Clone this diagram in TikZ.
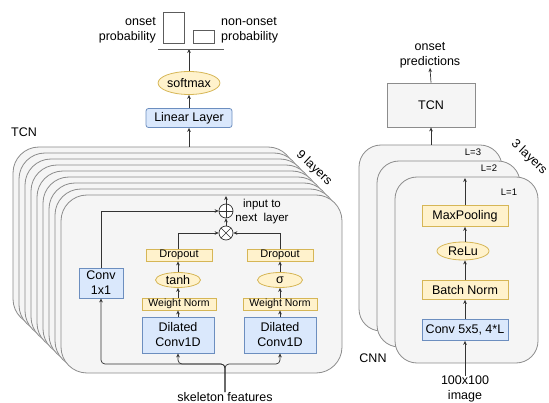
\documentclass[tikz,border=0pt]{standalone}
\usepackage{fontspec}
\setmainfont{Liberation Sans}
\usetikzlibrary{arrows.meta,shapes.geometric}
\definecolor{bluefill}{HTML}{DAE8FC}
\definecolor{bluedraw}{HTML}{6C8EBF}
\definecolor{yelfill}{HTML}{FFF2CC}
\definecolor{yeldraw}{HTML}{D6B656}
\definecolor{panelfill}{HTML}{F5F5F5}
\definecolor{paneldraw}{HTML}{8C8C8C}
\definecolor{wire}{HTML}{333333}

\begin{document}
\begin{tikzpicture}[x=1pt,y=-1pt,
  font=\fontsize{12.5}{15}\selectfont,
  panel/.style={draw=paneldraw, fill=panelfill, line width=0.8pt},
  bluebox/.style={draw=bluedraw, fill=bluefill, line width=0.8pt, inner sep=0pt, align=center},
  yelbox/.style={draw=yeldraw, fill=yelfill, line width=0.8pt, inner sep=0pt},
  yelell/.style={ellipse, draw=yeldraw, fill=yelfill, line width=0.8pt, inner sep=0pt},
  opcircle/.style={circle, draw=wire, fill=white, line width=0.7pt, minimum size=14, inner sep=0pt},
  wireline/.style={draw=wire, line width=0.7pt},
  arr/.style={wireline, -{Stealth[length=4pt,width=3.6pt]}},
  lbl/.style={inner sep=0pt, align=center},
  small/.style={font=\fontsize{10.5}{12}\selectfont},
  tiny/.style={font=\fontsize{9.5}{11}\selectfont},
]
\useasboundingbox (0,0) rectangle (549,403);

% ---------------- TCN: nine stacked layers ----------------
\foreach \i in {0,...,8}{
  \path[panel, rounded corners=26]
    ({13+6*\i},{147+6*\i}) rectangle ({294+6*\i},{325+6*\i});
}
\node[lbl] (tcnlbl) at (24,132) {TCN};
\node[lbl, rotate=-43] (nine) at (314,168) {9 layers};

% blocks inside the front layer
\node[bluebox, minimum width=44, minimum height=30] (c1x1) at (101,283) {Conv\\1x1};
\node[bluebox, minimum width=72, minimum height=36] (dcl) at (178,335) {Dilated\\Conv1D};
\node[bluebox, minimum width=72, minimum height=36] (dcr) at (280,335) {Dilated\\Conv1D};
\node[yelbox, small, minimum width=74, minimum height=12] (wnl) at (179,304) {Weight Norm};
\node[yelbox, small, minimum width=74, minimum height=12] (wnr) at (280,304) {Weight Norm};
\node[yelell, minimum width=45, minimum height=15] (tanh) at (178,280) {tanh};
\node[yelell, minimum width=45, minimum height=15] (sig) at (280,280) {σ};
\node[yelbox, font=\fontsize{11}{13}\selectfont, minimum width=66, minimum height=12] (dol) at (179,255) {Dropout};
\node[yelbox, font=\fontsize{11}{13}\selectfont, minimum width=66, minimum height=12] (dor) at (280,255) {Dropout};
\node[opcircle] (mul) at (226,233) {};
\node[opcircle] (add) at (226,211) {};
\draw[wireline] (mul.north west) -- (mul.south east) (mul.north east) -- (mul.south west);
\draw[wireline] (add.north) -- (add.south) (add.west) -- (add.east);
\node[lbl, font=\fontsize{11.5}{14}\selectfont] (nxt) at (262,212) {input to\\next\ \ layer};

\node[lbl] (sk) at (225,397) {skeleton features};
\coordinate (bus) at (225,364);
\coordinate (tcnout) at (226,196);
\coordinate (tcntop) at (189,147);

% wiring of the residual block
\draw[arr, rounded corners=4] (sk.north) -- (bus) -| (c1x1.south);
\draw[arr, rounded corners=4] (sk.north) -- (bus) -| (dcl.south);
\draw[arr, rounded corners=4] (sk.north) -- (bus) -| (dcr.south);
\draw[arr] (dcl.north) -- (dcl.north |- wnl.south);
\draw[arr] (dcr.north) -- (wnr.south);
\draw[arr] (dcl.north |- wnl.north) -- (tanh.south);
\draw[arr] (wnr.north) -- (sig.south);
\draw[arr] (tanh.north) -- (tanh.north |- dol.south);
\draw[arr] (sig.north) -- (dor.south);
\draw[arr] (tanh.north |- dol.north) |- (mul.west);
\draw[arr] (dor.north) |- (mul.east);
\draw[arr] (mul.north) -- (add.south);
\draw[arr] (c1x1.north) |- (add.west);
\draw[arr] (add.north) -- (tcnout);

% ---------------- output head ----------------
\node[bluebox, rounded corners=2.5, minimum width=86, minimum height=19] (lin) at (189,118) {Linear Layer};
\node[yelell, minimum width=59, minimum height=23] (soft) at (189,83) {softmax};
\coordinate (barbase) at (189,49);
\draw[arr] (tcntop) -- (lin.south);
\draw[arr] (lin.north) -- (soft.south);
\draw[arr] (soft.north) -- (barbase);
\draw[draw=wire!80, line width=0.7pt] (158,49) -- (224,49);
\node[draw=wire!80, line width=0.7pt, minimum width=21, minimum height=31, inner sep=0pt] (pon) at (173.5,27.5) {};
\node[draw=wire!80, line width=0.7pt, minimum width=21, minimum height=13, inner sep=0pt] (poff) at (203.5,36.5) {};
\node[lbl, align=right, anchor=east] (onl) at (156,30) {onset\\probability};
\node[lbl, align=left, anchor=west] (offl) at (221,30) {non-onset\\probability};

% ---------------- CNN: three stacked layers ----------------
\foreach \i in {0,1,2}{
  \path[panel, rounded corners=22]
    ({359+18*\i},{145+16*\i}) rectangle ({502+18*\i},{331+16*\i});
}
\node[lbl, tiny] (l3) at (473,152) {L=3};
\node[lbl, tiny] (l2) at (489,168) {L=2};
\node[lbl, tiny] (l1) at (509,192) {L=1};
\node[lbl, rotate=-43] (three) at (529,157) {3 layers};
\node[lbl] (cnnlbl) at (373,358) {CNN};

\node[panel, minimum width=88, minimum height=44, inner sep=0pt] (tcnbox) at (431,105) {TCN};
\node[lbl] (pred) at (430,55) {onset\\predictions};
\coordinate (cnntop) at (431,145);
\coordinate (cnnfront) at (465,178);

\node[yelbox, minimum width=86, minimum height=21] (mp) at (465,216) {MaxPooling};
\node[yelell, minimum width=52, minimum height=18] (relu) at (463,251) {ReLu};
\node[yelbox, minimum width=86, minimum height=19] (bn) at (465,290) {Batch Norm};
\node[bluebox, minimum width=86, minimum height=21] (conv5) at (465,330) {Conv 5x5, 4*L};
\node[lbl] (img) at (465,389) {100x100\\image};

\draw[arr] (img.north) -- (conv5.south);
\draw[arr] (conv5.north) -- (bn.south);
\draw[arr] (bn.north) -- (bn.north |- relu.south);
\draw[arr] (bn.north |- relu.north) -- (mp.south);
\draw[arr] (mp.north) -- (cnnfront);
\draw[arr] (cnntop) -- (tcnbox.south);
\draw[arr] (tcnbox.north) -- (pred.south);
\end{tikzpicture}
\end{document}
